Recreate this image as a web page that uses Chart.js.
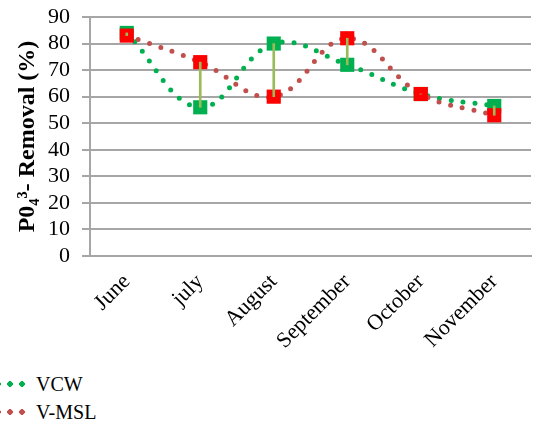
<!DOCTYPE html>
<html>
<head>
<meta charset="utf-8">
<script src="https://cdn.jsdelivr.net/npm/chart.js@4"></script>
<style>
    body { margin: 0; background: #fff; }
    .wrap { position: relative; width: 541px; height: 432px; overflow: hidden; }
    .chartBox { position: absolute; left: 0; top: 0; width: 541px; height: 362px; }
    .legend { position: absolute; left: -20px; top: 370px; font-family: 'Liberation Serif', serif; font-size: 20px; color: #000; }
    .legend div { height: 28px; display: flex; align-items: center; }
    .legend span.sample { display: inline-block; width: 45px; height: 6px; margin-right: 11px; background-size: 12px 6px; background-repeat: repeat-x; }
</style>
</head>
<body>
<div class="wrap">
    <div class="chartBox"><canvas class="poChart"></canvas></div>
    <div class="legend"></div>
</div>
<script>
// values
const months = ['June', 'july', 'August', 'September', 'October', 'November'];
const vcw = [84, 56, 80, 72, 61, 56.5];
const vmsl = [83, 73, 60, 82, 61, 53];
const yTicks = [0, 10, 20, 30, 40, 50, 60, 70, 80, 90];

const greenDot = '#00B050';
const redDot = '#C0504D';

// high-low lines between the two series
const hiLow = months.map((m, i) => [Math.min(vcw[i], vmsl[i]), Math.max(vcw[i], vmsl[i])]);

const renderChart = () => {
    let ctx = document.querySelector('.poChart');
    new Chart(ctx, {
        data: {
            labels: months,
            datasets: [
                {
                    type: 'bar',
                    label: 'hilo',
                    data: hiLow,
                    backgroundColor: '#9BBB59',
                    barThickness: 2,
                    order: 0
                },
                {
                    type: 'line',
                    label: 'VCW',
                    data: vcw,
                    borderColor: greenDot,
                    backgroundColor: greenDot,
                    borderWidth: 5,
                    borderDash: [0, 12],
                    borderCapStyle: 'round',
                    tension: 0.4,
                    pointStyle: 'rect',
                    pointRadius: 10,
                    pointBorderWidth: 0,
                    pointBackgroundColor: greenDot,
                    order: 2
                },
                {
                    type: 'line',
                    label: 'V-MSL',
                    data: vmsl,
                    borderColor: redDot,
                    backgroundColor: redDot,
                    borderWidth: 5,
                    borderDash: [0, 12],
                    borderCapStyle: 'round',
                    tension: 0.4,
                    pointStyle: 'rect',
                    pointRadius: 10,
                    pointBorderWidth: 0,
                    pointBackgroundColor: '#FF0000',
                    order: 1
                }
            ]
        },
        options: {
            responsive: true,
            maintainAspectRatio: false,
            animation: false,
            layout: {
                padding: { top: 17, right: 7, left: 0, bottom: 0 }
            },
            plugins: {
                legend: { display: false },
                tooltip: { enabled: false }
            },
            scales: {
                x: {
                    offset: true,
                    afterFit: (axis) => { axis.height = 106; },
                    grid: { display: false, drawTicks: false },
                    border: { color: '#a6a6a6', width: 2 },
                    ticks: {
                        color: '#000',
                        maxRotation: 45,
                        minRotation: 45,
                        padding: 13,
                        font: { family: 'Liberation Serif', size: 22 }
                    }
                },
                y: {
                    min: 0,
                    max: 90,
                    afterFit: (axis) => {
                        axis.width = 90;
                        axis.paddingTop = 0;
                        axis.paddingBottom = 0;
                    },
                    afterBuildTicks: (axis) => {
                        axis.ticks = yTicks.map(v => ({ value: v }));
                    },
                    grid: {
                        color: '#a6a6a6',
                        lineWidth: 2,
                        tickLength: 8
                    },
                    border: { color: '#a6a6a6', width: 2 },
                    ticks: {
                        color: '#000',
                        autoSkip: false,
                        padding: 12,
                        font: { family: 'Liberation Serif', size: 22 }
                    },
                    title: {
                        display: true,
                        text: 'P0\u2084\u00B3- Removal (%)',
                        color: '#000',
                        padding: { top: 13, bottom: 0 },
                        font: { family: 'Liberation Serif', size: 24, weight: 'bold' }
                    }
                }
            }
        }
    });
}

const renderLegend = () => {
    let box = document.querySelector('.legend');
    [['VCW', greenDot], ['V-MSL', redDot]].forEach(([name, col]) => {
        let row = document.createElement('div');
        let s = document.createElement('span');
        s.className = 'sample';
        s.style.backgroundImage = 'radial-gradient(circle at 6px 3px, ' + col + ' 2.6px, transparent 3px)';
        row.appendChild(s);
        row.appendChild(document.createTextNode(name));
        box.appendChild(row);
    });
}

renderChart();
renderLegend();
</script>
</body>
</html>
